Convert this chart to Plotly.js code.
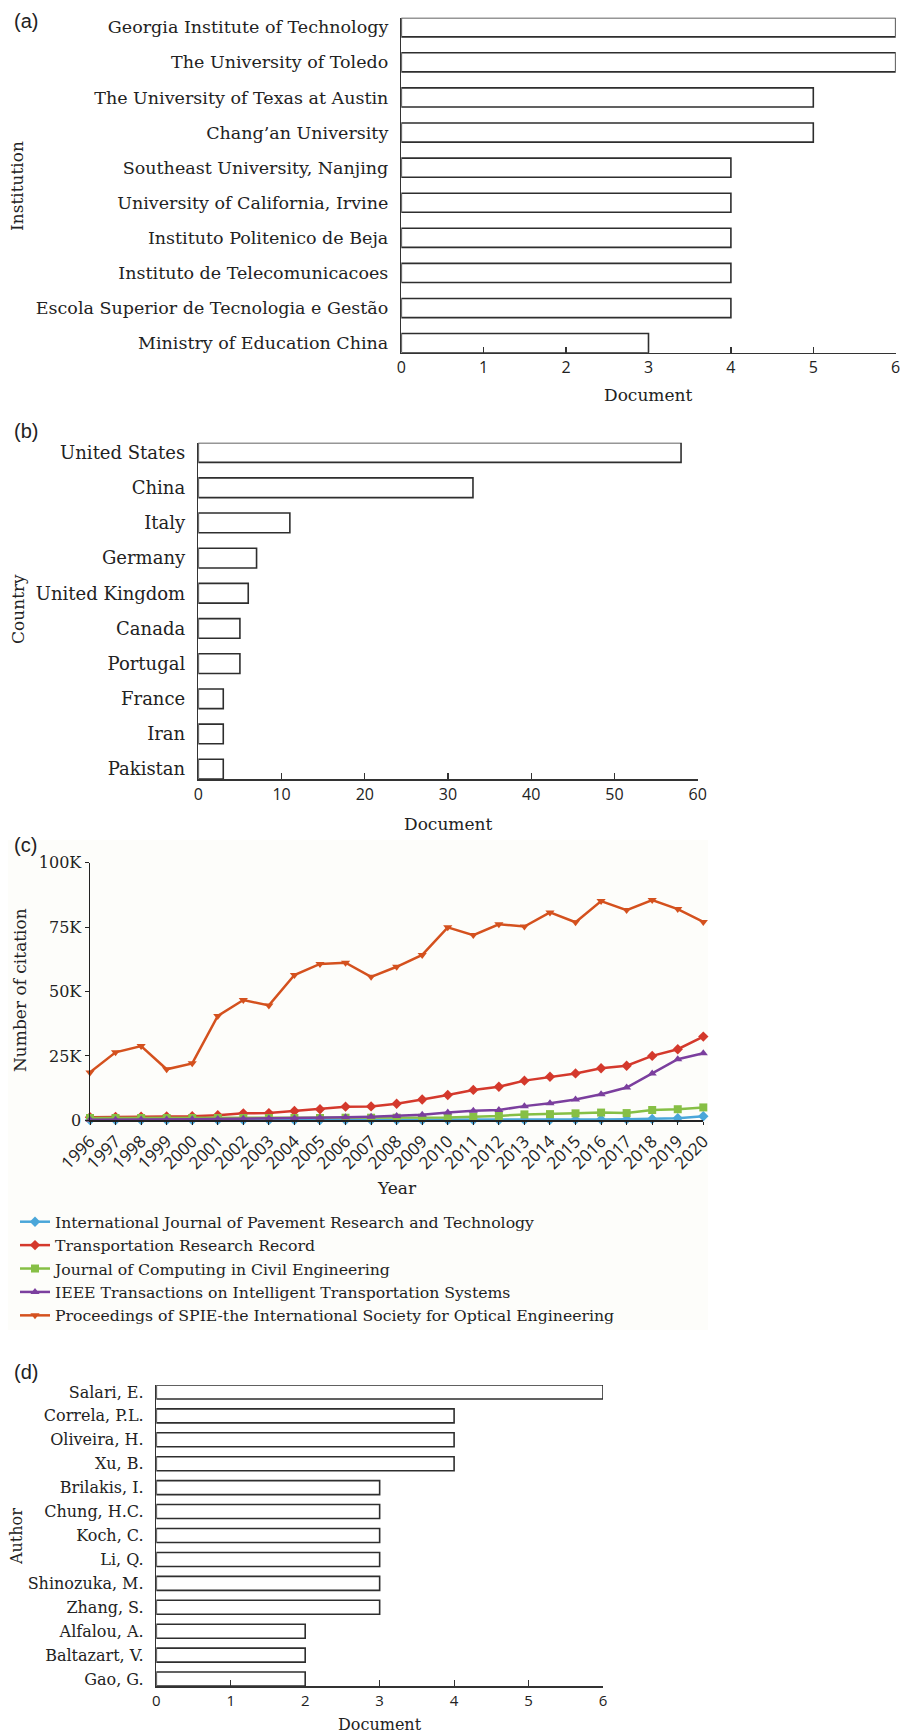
<!DOCTYPE html>
<html><head><meta charset="utf-8">
<script src="https://cdn.plot.ly/plotly-3.0.1.min.js"></script>
<style>html,body{margin:0;padding:0;background:#fff}</style>
</head><body><div id="chart" style="width:918px;height:1735px"></div>
<script>
// ---------- DATA ----------
const institutions = ["Georgia Institute of Technology","The University of Toledo","The University of Texas at Austin","Chang\u2019an University","Southeast University, Nanjing","University of California, Irvine","Instituto Politenico de Beja","Instituto de Telecomunicacoes","Escola Superior de Tecnologia e Gest\u00e3o","Ministry of Education China"];
const institutionDocs = [6,6,5,5,4,4,4,4,4,3];

const countries = ["United States","China","Italy","Germany","United Kingdom","Canada","Portugal","France","Iran","Pakistan"];
const countryDocs = [58,33,11,7,6,5,5,3,3,3];

const years = [1996,1997,1998,1999,2000,2001,2002,2003,2004,2005,2006,2007,2008,2009,2010,2011,2012,2013,2014,2015,2016,2017,2018,2019,2020];
const seriesNames = ["International Journal of Pavement Research and Technology","Transportation Research Record","Journal of Computing in Civil Engineering","IEEE Transactions on Intelligent Transportation Systems","Proceedings of SPIE-the International Society for Optical Engineering"];
const ijprt = [100,100,100,100,100,100,100,100,100,100,100,100,100,100,100,100,100,150,200,250,300,400,500,800,1600];
const trr   = [1200,1300,1400,1500,1600,2000,2700,2800,3600,4300,5300,5400,6400,8100,9800,11800,13000,15400,16900,18200,20200,21200,25000,27600,32500];
const jcce  = [900,900,900,900,900,900,900,900,900,900,1000,1000,1000,1000,1100,1400,1700,2300,2400,2700,3000,2800,4000,4300,5000];
const ieee  = [200,200,300,300,400,500,600,700,800,1000,1200,1400,1700,2200,3000,3700,4000,5500,6600,8100,10100,12700,18200,23700,26000];
const spie  = [18600,26400,28800,19800,22100,40500,46700,44600,56400,60700,61200,55700,59600,64200,74900,71900,76100,75200,80700,76900,85100,81600,85500,82000,77000];
const citationTickVals = [0,25000,50000,75000,100000];
const citationTickText = ["0","25K","50K","75K","100K"];

const authors = ["Salari, E.","Correla, P.L.","Oliveira, H.","Xu, B.","Brilakis, I.","Chung, H.C.","Koch, C.","Li, Q.","Shinozuka, M.","Zhang, S.","Alfalou, A.","Baltazart, V.","Gao, G."];
const authorDocs = [6,4,4,4,3,3,3,3,3,3,2,2,2];

// ---------- LAYOUT HELPERS ----------
const W = 918, H = 1735;
const px = v => v / W;
const py = v => 1 - v / H;
const SERIF = "DejaVu Serif, serif";
const SANS = "Open Sans, sans-serif";
const INK = "#222222";

function barTrace(cats, vals, xa, ya, w) {
  return {type:"bar", orientation:"h", y:cats, x:vals, xaxis:xa, yaxis:ya, width:w,
    marker:{color:"#ffffff", line:{color:"#2e2e2e", width:1.6}}, showlegend:false, hoverinfo:"x+y"};
}
const colors = ["#4aa6d9","#d4392c","#86bf45","#7b3f9e","#d4511e"];
const symbols = ["diamond","diamond","square","triangle-up","triangle-down"];
const lineSeries = [ijprt, trr, jcce, ieee, spie];

const data = [
  barTrace(institutions, institutionDocs, "x", "y", 0.545),
  barTrace(countries, countryDocs, "x2", "y2", 0.56),
  barTrace(authors, authorDocs, "x4", "y4", 0.585)
];
lineSeries.forEach((s, i) => {
  data.push({type:"scatter", mode:"lines+markers", x:years, y:s, name:seriesNames[i],
    xaxis:"x3", yaxis:"y3", cliponaxis:false,
    line:{color:colors[i], width:2.5}, marker:{color:colors[i], symbol:symbols[i], size:8}});
});

function xBar(d0, d1, range, dtick, anchor, fs) {
  return {domain:[px(d0), px(d1)], range:range, autorange:false, dtick:dtick, anchor:anchor,
    ticks:"inside", ticklen:6, tickcolor:"#333", tickwidth:1.2,
    showline:true, linecolor:"#333", linewidth:1.5, showgrid:false, zeroline:false,
    tickfont:{family:SANS, size:fs, color:INK}, fixedrange:true};
}
function yBar(top, bottom, range, anchor, fs) {
  return {domain:[py(bottom), py(top)], type:"category", range:range, autorange:false, anchor:anchor,
    ticks:"", showline:true, linecolor:"#333", linewidth:1.5, showgrid:false, zeroline:false,
    ticklabelstandoff:8, tickfont:{family:SERIF, size:fs, color:INK}, fixedrange:true};
}

const ann = [];
function txt(x, y, t, opts) {
  ann.push(Object.assign({xref:"paper", yref:"paper", x:px(x), y:py(y), text:t, showarrow:false,
    xanchor:"center", yanchor:"middle", font:{family:SERIF, size:17, color:INK}}, opts||{}));
}
// panel labels
[["(a)",21],["(b)",431],["(c)",845],["(d)",1372]].forEach(([t,y]) =>
  txt(12, y, t, {xanchor:"left", font:{family:"Liberation Sans, Arial, sans-serif", size:20, color:"#222"}}));
// axis titles
txt(17, 186, "Institution", {textangle:-90});
txt(648, 395, "Document");
txt(18, 609, "Country", {textangle:-90});
txt(448, 824, "Document");
txt(20, 990, "Number of citation", {textangle:-90});
txt(397, 1188, "Year");
txt(16, 1537, "Author", {textangle:-90, font:{family:SERIF, size:16, color:INK}});
txt(380, 1724, "Document", {font:{family:SERIF, size:16, color:INK}});

const layout = {
  width:W, height:H, autosize:false,
  margin:{l:0, r:0, t:0, b:0, pad:0},
  paper_bgcolor:"#ffffff", plot_bgcolor:"rgba(0,0,0,0)",
  showlegend:true,
  xaxis: xBar(401.3, 895.7, [0,6], 1, "y", 16),
  yaxis: yBar(17.7, 352.7, [9.2725,-0.2725], "x", 17.5),
  xaxis2: xBar(198.3, 697.7, [0,60], 10, "y2", 16),
  yaxis2: yBar(442.7, 779, [9.28,-0.28], "x2", 18),
  xaxis3: {domain:[px(90), px(703.3)], range:[1996,2020], autorange:false, anchor:"y3",
    tickmode:"array", tickvals:years, ticktext:years.map(String), tickangle:-45,
    ticks:"outside", ticklen:3, tickcolor:"#222", showline:true, linecolor:"#222", linewidth:1.5,
    showgrid:false, zeroline:false, tickfont:{family:SANS, size:17, color:INK}, fixedrange:true},
  yaxis3: {domain:[py(1120.3), py(862.7)], range:[0,100000], autorange:false, anchor:"x3",
    tickmode:"array", tickvals:citationTickVals, ticktext:citationTickText,
    ticks:"outside", ticklen:4, tickcolor:"#222", showline:true, linecolor:"#222", linewidth:1.5,
    showgrid:false, zeroline:false, tickfont:{family:SERIF, size:16, color:INK}, fixedrange:true},
  xaxis4: xBar(156.3, 603, [0,6], 1, "y4", 15),
  yaxis4: yBar(1385, 1686, [12.29,-0.29], "x4", 16),
  legend:{x:px(15), y:py(1205), xanchor:"left", yanchor:"top", bgcolor:"rgba(0,0,0,0)",
    font:{family:SERIF, size:15.7, color:INK}, itemwidth:30, tracegroupgap:0},
  annotations: ann,
  shapes:[{type:"rect", xref:"paper", yref:"paper", x0:px(8), x1:px(708), y0:py(1330), y1:py(840),
    fillcolor:"#fdfdfa", line:{width:0}, layer:"below"}]
};
Plotly.newPlot("chart", data, layout, {displayModeBar:false, staticPlot:true});
</script></body></html>
